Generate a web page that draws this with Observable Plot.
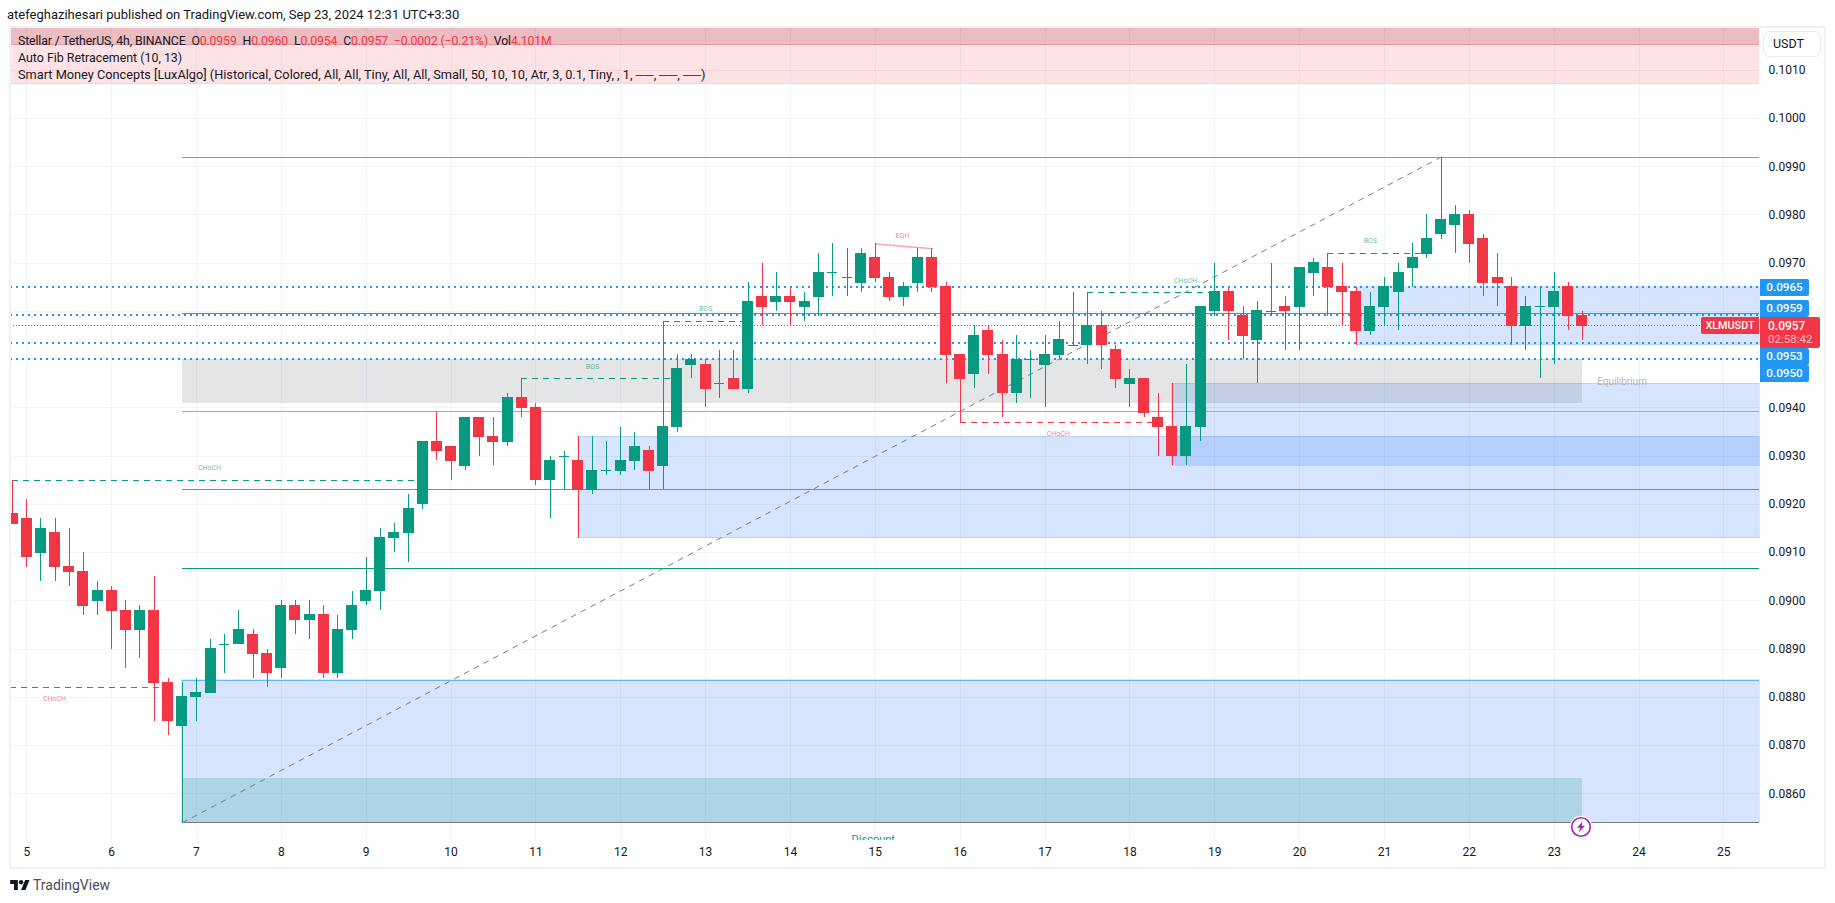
<!DOCTYPE html>
<html><head><meta charset="utf-8">
<script src="https://cdn.jsdelivr.net/npm/d3@7"></script>
<script src="https://cdn.jsdelivr.net/npm/@observablehq/plot@0.6"></script>
<style>
html,body{margin:0;padding:0;background:#fff;overflow:hidden}
#page{position:relative;width:1835px;height:903px;font-family:Roboto,sans-serif;color:#131722}
#page svg.plot{position:absolute;left:0;top:0}
.abs{position:absolute;white-space:pre;line-height:1}
#frame{position:absolute;left:9px;top:26px;width:1813px;height:839px;border:2px solid #eff1f6;pointer-events:none}
.leg{left:18px;color:#131722}
.red{color:#f23645}
.badge{position:absolute;left:1760px;width:49px;height:17px;background:#2196f3;color:#fff;font-size:11.7px;font-weight:500;line-height:17px;text-align:center;border-radius:0 2px 2px 0}
</style>
</head><body><div id="page"></div>
<script>
// candle series, one value per 4h bar, first bar is bar -1 before day 5
const opens=[.0918,.0917,.0910,.0914,.0907,.0906,.0900,.0902,.0898,.0894,.0898,.0883,.0874,.0880,.0881,.0891,.0891,.0893,.0889,.0886,.0899,.0896,.0897,.0885,.0894,.0900,.0902,.0913,.0914,.0920,.0933,.0932,.0928,.0938,.0934,.0933,.0942,.0940,.0925,.0930,.0929,.0923,.0927,.0927,.0929,.0931,.0928,.0936,.0949,.0949,.0945,.0946,.0944,.0963,.0962,.0963,.0961,.0963,.0968,.0967,.0966,.0971,.0967,.0963,.0966,.0971,.0965,.0951,.0947,.0956,.0951,.0943,.0950,.0949,.0951,.0953,.0953,.0957,.0952,.0945,.0946,.0938,.0936,.0930,.0936,.0960,.0964,.0959,.0954,.0960,.0961,.0961,.0968,.0969,.0965,.0964,.0956,.0961,.0964,.0969,.0972,.0976,.0978,.0980,.0975,.0967,.0965,.0957,.0961,.0961,.0965,.0959];
const highs=[.0925,.0921,.0917,.0917,.0915,.0910,.0904,.0903,.0900,.0899,.0905,.0884,.0883,.0884,.0892,.0893,.0898,.0894,.0890,.0900,.0900,.0900,.0899,.0897,.0902,.0909,.0915,.0916,.0922,.0933,.0939,.0932,.0938,.0938,.0938,.0943,.0946,.0941,.0930,.0931,.0934,.0934,.0933,.0936,.0935,.0932,.0958,.0951,.0951,.0950,.0952,.0952,.0966,.0970,.0968,.0965,.0964,.0972,.0974,.0973,.0973,.0974,.0968,.0966,.0973,.0973,.0966,.0951,.0957,.0957,.0954,.0955,.0952,.0955,.0958,.0964,.0964,.0960,.0953,.0948,.0946,.0943,.0945,.0949,.0961,.0970,.0965,.0961,.0962,.0970,.0963,.0969,.0971,.0972,.0970,.0965,.0964,.0967,.0970,.0974,.0980,.0992,.0982,.0981,.0976,.0972,.0967,.0963,.0965,.0968,.0966,.0960];
const lows=[.0916,.0907,.0904,.0904,.0903,.0897,.0897,.0890,.0886,.0888,.0875,.0872,.0854,.0875,.0881,.0885,.0891,.0884,.0882,.0884,.0893,.0892,.0884,.0884,.0892,.0899,.0898,.0910,.0908,.0919,.0929,.0925,.0927,.0930,.0928,.0932,.0938,.0924,.0917,.0923,.0913,.0922,.0926,.0926,.0927,.0923,.0923,.0935,.0946,.0940,.0942,.0944,.0943,.0957,.0960,.0957,.0958,.0959,.0963,.0963,.0964,.0966,.0962,.0961,.0964,.0964,.0945,.0937,.0944,.0947,.0938,.0941,.0942,.0940,.0950,.0953,.0949,.0948,.0944,.0940,.0938,.0930,.0928,.0928,.0933,.0959,.0954,.0950,.0945,.0959,.0952,.0952,.0963,.0959,.0957,.0953,.0955,.0957,.0956,.0965,.0971,.0975,.0972,.0970,.0963,.0961,.0953,.0952,.0946,.0949,.0956,.0954];
const closes=[.0916,.0909,.0915,.0907,.0906,.0899,.0902,.0898,.0894,.0898,.0883,.0875,.0880,.0881,.0890,.0891,.0894,.0889,.0885,.0899,.0896,.0897,.0885,.0894,.0899,.0902,.0913,.0914,.0919,.0933,.0931,.0929,.0938,.0934,.0933,.0942,.0940,.0925,.0929,.0930,.0923,.0927,.0927,.0929,.0932,.0927,.0936,.0948,.0950,.0944,.0945,.0944,.0962,.0961,.0963,.0962,.0962,.0968,.0968,.0967,.0972,.0967,.0963,.0965,.0971,.0965,.0951,.0946,.0955,.0951,.0943,.0950,.0950,.0951,.0954,.0953,.0957,.0953,.0946,.0946,.0939,.0936,.0930,.0936,.0961,.0964,.0960,.0955,.0960,.0960,.0960,.0969,.0970,.0965,.0964,.0956,.0961,.0965,.0968,.0971,.0975,.0979,.0980,.0974,.0966,.0966,.0957,.0961,.0961,.0964,.0959,.0957];
const firstDay=4+5/6, barsPerDay=6;

const dayTicks=[5,6,7,8,9,10,11,12,13,14,15,16,17,18,19,20,21,22,23,24,25];
const priceTicks=[.086,.087,.088,.089,.09,.091,.092,.093,.094,.095,.096,.097,.098,.099,.1,.101];
const xDomain=[4.808,25.42], yDomain=[.085032,.101887];

// alert levels and auto fib levels
const alertLevels=[.0965,.09593,.09534,.09502];
const lastPrice=.0957;
const fibStart=6.8333, fibHighDay=21.6667;
const fibPrices=[.0992,.09596,.09392,.0923,.09067,.08835,.0854];
const fibColors=["#9298c0","#f0574e","#81c784","#4caf50","#089981","#64b5f6","#787b86"];

// zones: day from, price top, price bottom
const obStarts=[6.83,11.5,18.5,20.67];
const obTops=[.08835,.0934,.0945,.0965];
const obBottoms=[.0854,.0913,.0928,.0953];
const zoneEnd=23.33;

// structure breaks
const brkFrom=[4.83,4.808,10.83,12.5,16,17.5,20.33];
const brkTo=[9.67,6.67,12.67,13.5,18.33,19,21.5];
const brkPrice=[.0925,.0882,.0946,.0958,.0937,.0964,.0972];
const brkColor=["#089981","#f23645","#089981","#089981","#f23645","#089981","#089981"];

const lblText=["CHoCH","CHoCH","BOS","BOS","EQH","CHoCH","CHoCH","BOS"];
const lblDay=[7.153,5.326,11.667,13.0,15.32,17.157,18.655,20.834];
const lblPrice=[.09276,.08798,.09486,.09605,.09757,.09347,.09664,.09747];
const lblColor=["#089981","#f23645","#089981","#089981","#f23645","#f23645","#089981","#089981"];

const eqhDay=[15,15.67], eqhPrice=[.0974,.0973];

const bars=opens.map((o,i)=>({day:firstDay+i/barsPerDay,o,h:highs[i],l:lows[i],c:closes[i]}));
const up="#089981", dn="#f23645", half=5/84.85;
const col=d=>d.c>=d.o?up:dn;
const crisp={shapeRendering:"crispEdges"};

const chart=Plot.plot({
  width:1835,height:903,marginLeft:10,marginRight:76,marginTop:27,marginBottom:63,
  style:{fontFamily:"Roboto,sans-serif",fontSize:"12px",color:"#131722",background:"transparent"},
  x:{domain:xDomain,label:null},
  y:{domain:yDomain,label:null},
  marks:[
    Plot.gridY(priceTicks,{stroke:"#f0f3fa",strokeOpacity:1,...crisp}),
    Plot.gridX(dayTicks,{stroke:"#f0f3fa",strokeOpacity:1,...crisp}),
    // legend bands
    Plot.rect([[.10189,.10153]],{x1:xDomain[0],x2:xDomain[1],y1:d=>d[0],y2:d=>d[1],fill:"#c0202d",fillOpacity:.3,...crisp}),
    Plot.rect([[.10153,.10100],[.10100,.10073]],{x1:xDomain[0],x2:xDomain[1],y1:d=>d[0],y2:d=>d[1],fill:"#f23645",fillOpacity:.14,...crisp}),
    Plot.ruleY([.10153],{x1:xDomain[0],x2:xDomain[1],stroke:"#e39aa0",...crisp}),
    Plot.ruleY([.10100,.10073],{x1:xDomain[0],x2:xDomain[1],stroke:"#f9d0d3",...crisp}),
    // order blocks
    Plot.rect(obStarts,{x1:d=>d,x2:xDomain[1],y1:(d,i)=>obTops[i],y2:(d,i)=>obBottoms[i],fill:"#3179f5",fillOpacity:.2,stroke:"#3179f5",strokeOpacity:.18,...crisp}),
    // equilibrium and discount
    Plot.rect([0],{x1:fibStart,x2:zoneEnd,y1:.0950,y2:.09409,fill:"#787b86",fillOpacity:.2,...crisp}),
    Plot.rect([0],{x1:fibStart,x2:zoneEnd,y1:.08632,y2:.0854,fill:up,fillOpacity:.2,...crisp}),
    // dotted levels
    Plot.ruleY(alertLevels,{x1:xDomain[0],x2:xDomain[1],stroke:"#2196f3",strokeWidth:2,strokeDasharray:"2 4",...crisp}),
    Plot.ruleY([lastPrice],{x1:xDomain[0],x2:xDomain[1],stroke:dn,strokeWidth:1,strokeDasharray:"1 2",...crisp}),
    // fib levels
    Plot.ruleY(fibPrices,{x1:fibStart,x2:xDomain[1],stroke:(d,i)=>fibColors[i],strokeWidth:1,...crisp}),
    Plot.line([[fibStart,.0854],[fibHighDay,.0992]],{x:d=>d[0],y:d=>d[1],stroke:"#787b86",strokeWidth:1,strokeDasharray:"5 6"}),
    // structure
    Plot.ruleY(brkPrice,{x1:(d,i)=>brkFrom[i],x2:(d,i)=>brkTo[i],stroke:(d,i)=>brkColor[i],strokeWidth:1,strokeDasharray:"6 5",...crisp}),
    Plot.line(eqhDay,{x:d=>d,y:(d,i)=>eqhPrice[i],stroke:dn,strokeWidth:1.5,strokeDasharray:"2 1.5",strokeOpacity:.5}),
    Plot.text(lblText,{x:(d,i)=>lblDay[i],y:(d,i)=>lblPrice[i],text:d=>d,fill:(d,i)=>lblColor[i],fillOpacity:.65,fontSize:7,fontFamily:"Roboto,sans-serif"}),
    Plot.text(["Equilibrium"],{x:23.8,y:.09455,text:d=>d,fill:"#b2b5be",fontSize:10}),
    Plot.text(["Discount"],{x:14.976,y:.08505,text:d=>d,fill:up,fontSize:11,clip:true}),
    // candles
    Plot.ruleX(bars,{x:"day",y1:"l",y2:"h",stroke:col,strokeWidth:1,clip:true,...crisp}),
    Plot.rect(bars,{x1:d=>d.day-half,x2:d=>d.day+half,y1:"o",y2:"c",fill:col,stroke:col,strokeWidth:1,clip:true,...crisp}),
    Plot.ruleY(bars.filter(d=>d.o===d.c),{y:"o",x1:d=>d.day-half,x2:d=>d.day+half,stroke:col,...crisp}),
    // axes
    Plot.axisY(priceTicks,{anchor:"right",tickSize:0,tickPadding:9,tickFormat:d=>d.toFixed(4),fill:"#131722",label:null,fontSize:12}),
    Plot.axisX(dayTicks,{anchor:"bottom",tickSize:0,tickPadding:7,tickFormat:d=>String(d),fill:"#131722",label:null,fontSize:12})
  ]
});
chart.classList.add("plot");
const page=document.getElementById("page");
page.appendChild(chart);
const R=s=>`<span class="red">${s}</span>`;
const overlay=`
<div id="frame"></div>
<div class="abs" style="left:7px;top:8px;font-size:13px;color:#131722">atefeghazihesari published on TradingView.com, Sep 23, 2024 12:31 UTC+3:30</div>
<div class="abs leg" style="top:35px;font-size:12.25px;letter-spacing:-.12px">Stellar / TetherUS, 4h, BINANCE  O${R("0.0959")}  H${R("0.0960")}  L${R("0.0954")}  C${R("0.0957")}  ${R("−0.0002 (−0.21%)")}  Vol${R("4.101M")}</div>
<div class="abs leg" style="top:52px;font-size:12.4px">Auto Fib Retracement (10, 13)</div>
<div class="abs leg" style="top:69px;font-size:12.75px">Smart Money Concepts [LuxAlgo] (Historical, Colored, All, All, Tiny, All, All, Small, 50, 10, 10, Atr, 3, 0.1, Tiny, , 1, ──, ──, ──)</div>
<div class="abs" style="left:1763px;top:31px;width:56px;height:24px;border:1px solid #e8eaf1;border-radius:6px;font-size:12.5px;line-height:24px;text-indent:9px;background:#fff">USDT</div>
<div class="badge" style="top:279px">0.0965</div>
<div class="badge" style="top:300px">0.0959</div>
<div class="badge" style="top:348px">0.0953</div>
<div class="badge" style="top:365px">0.0950</div>
<div class="abs" style="left:1701px;top:317px;width:58px;height:17px;background:#f23645;color:#fff;font-size:10.8px;font-weight:500;line-height:17px;text-align:center;border-radius:2px 0 0 2px">XLMUSDT</div>
<div class="abs" style="left:1760px;top:317px;width:60px;height:31px;background:#f23645;border-radius:0 2px 2px 0"></div>
<div class="abs" style="left:1768px;top:320px;color:#fff;font-size:12px;font-weight:500">0.0957</div>
<div class="abs" style="left:1768px;top:334px;color:#fbc2c7;font-size:11.5px">02:58:42</div>
<svg class="abs" style="left:1569px;top:815px" width="24" height="24" viewBox="0 0 24 24"><circle cx="12" cy="12" r="10.5" fill="#fff" stroke="#fff" stroke-width="1.5"/><circle cx="12" cy="12" r="9.3" fill="#fff" stroke="#9c27b0" stroke-width="1.6"/><path d="M13.5 6.5 8 12.8h3.2L9.6 17.5 16 10.8h-3.3z" fill="#9c27b0"/></svg>
<svg class="abs" style="left:10px;top:879px" width="20" height="12" viewBox="0 0 36 22"><path d="M14 20H7V9H0V2h14zM28 20h-8l7.5-18h8z" fill="#131722"/><circle cx="20" cy="6" r="4" fill="#131722"/></svg>
<div class="abs" style="left:33px;top:878px;font-size:14px;color:#4a4e5a">TradingView</div>`;
page.insertAdjacentHTML("beforeend",overlay);
</script></body></html>
